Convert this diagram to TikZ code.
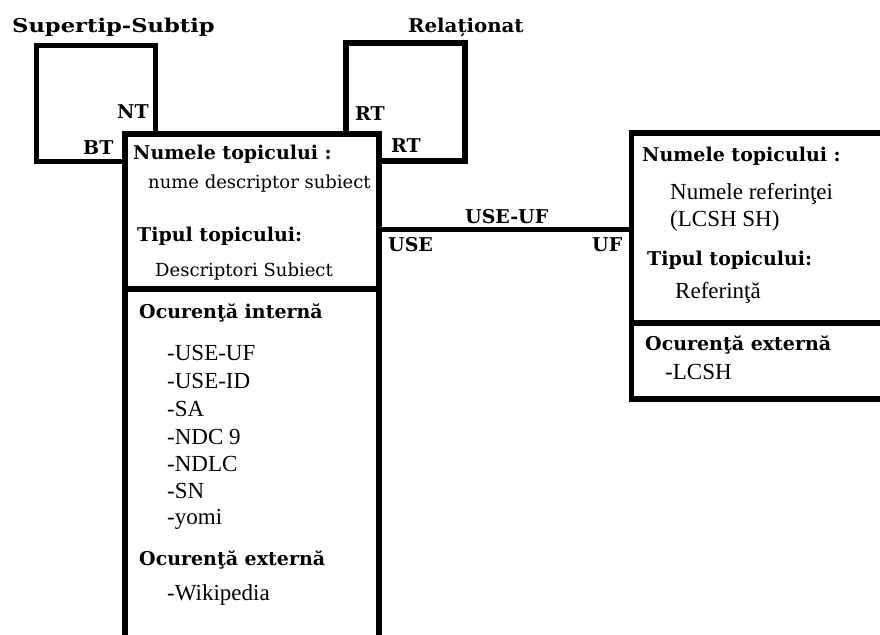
\documentclass[tikz,border=0pt]{standalone}
\usepackage{fontspec}
\setmainfont{DejaVu Serif}
\newfontfamily\timesfont{Liberation Serif}
\begin{document}
\begin{tikzpicture}[x=1pt,y=-1pt,
  box/.style={draw=black,line width=5.5pt,fill=white,rectangle,inner sep=0pt,outer sep=0pt,anchor=north west},
  link/.style={draw=black,line width=5pt},
  head/.style={font=\fontsize{19}{22}\selectfont\bfseries,inner sep=0pt,anchor=base west},
  tag/.style={font=\fontsize{19}{22}\selectfont\bfseries,inner sep=0pt,anchor=base west},
  body/.style={font=\fontsize{18}{21}\selectfont,inner sep=0pt,anchor=base west},
  item/.style={font=\timesfont\fontsize{23}{26}\selectfont,inner sep=0pt,anchor=base west}]
\useasboundingbox (0,0) rectangle (880,634);
\clip (0,0) rectangle (880,634);
\fill[white] (0,0) rectangle (880,634);

% relation loops behind the main box
\node[box,minimum width=119pt,minimum height=116pt] (sup) at (36.5,45.5) {};
\node[box,minimum width=119pt,minimum height=118pt] (rel) at (346,43) {};

% main topic box: names/type on top, occurrences below
\node[box,minimum width=254pt,minimum height=155pt] (mainTop) at (125,134) {};
\node[box,minimum width=254pt,minimum height=350pt] (mainBot) at (125,289) {};
\draw[line width=6.5pt] (mainTop.south west) -- (mainTop.south east);

% reference topic box
\node[box,minimum width=260pt,minimum height=190pt] (refTop) at (631.5,133) {};
\node[box,minimum width=260pt,minimum height=76pt] (refBot) at (631.5,323) {};

% USE-UF association
\coordinate (lnk) at (0,229.5);
\draw[link] (mainTop.east |- lnk) -- (refTop.west |- lnk);

% association titles and role labels
\node[tag] (tSup) at (12,33) {\scalebox{1.19}[1]{Supertip-Subtip}};
\node[tag] (tRel) at (408,33) {\scalebox{1.04}[1]{Relaționat}};
\node[tag] (rNT) at (117,118) {NT};
\node[tag] (rBT) at (83,154) {BT};
\node[tag] (rRT1) at (355,120) {RT};
\node[tag] (rRT2) at (391,152) {RT};
\node[tag] (tUse) at (465,223) {USE-UF};
\node[tag] (rUse) at (388,251) {USE};
\node[tag] (rUF) at (592,251) {UF};

% main box contents
\node[head] (mName) at (133,159) {Numele topicului :};
\node[body] (mNameV) at (148,188) {nume descriptor subiect};
\node[head] (mType) at (137,241) {Tipul topicului:};
\node[body] (mTypeV) at (155,276) {Descriptori Subiect};
\node[head] (mInt) at (139,318) {Ocurenţă internă};
\node[item] (i1) at (167,360) {-USE-UF};
\node[item] (i2) at (167,388) {-USE-ID};
\node[item] (i3) at (167,416) {-SA};
\node[item] (i4) at (167,444) {-NDC 9};
\node[item] (i5) at (167,471) {-NDLC};
\node[item] (i6) at (167,498) {-SN};
\node[item] (i7) at (167,524) {-yomi};
\node[head] (mExt) at (139,565) {Ocurenţă externă};
\node[item] (e1) at (167,600) {-Wikipedia};

% reference box contents
\node[head] (rName) at (642,161) {Numele topicului :};
\node[item] (rNameV1) at (670,199) {Numele referinţei};
\node[item] (rNameV2) at (670,226) {(LCSH SH)};
\node[head] (rType) at (647,265) {Tipul topicului:};
\node[item] (rTypeV) at (675,298) {Referinţă};
\node[head] (rExt) at (645,350) {Ocurenţă externă};
\node[item] (re1) at (665,379) {-LCSH};
\end{tikzpicture}
\end{document}
